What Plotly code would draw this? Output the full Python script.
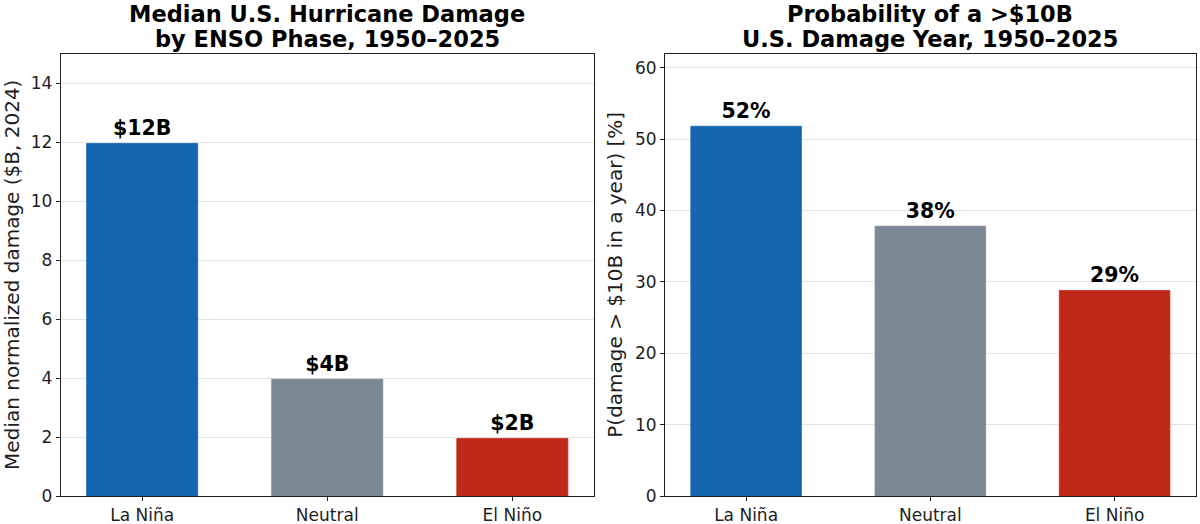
import plotly.graph_objects as go
from plotly.subplots import make_subplots

phases = ["La Niña", "Neutral", "El Niño"]
median_damage = [11.95, 3.96, 1.95]
damage_labels = ["$12B", "$4B", "$2B"]
prob_big_year = [51.8, 37.8, 28.8]
prob_labels = ["52%", "38%", "29%"]
bar_colors = ["#1565b0", "#7a8896", "#c0291a"]

font_family = "DejaVu Sans"
axis_color = "#1e1e1e"
grid_color = "#e4e4e4"

H = 524


def py(px):
    # reference pixel row -> paper y
    return 1 - px / H


fig = make_subplots(rows=1, cols=2)

fig.add_trace(go.Bar(
    x=[0, 1, 2], y=median_damage, width=0.6,
    marker=dict(color=bar_colors, line=dict(width=0.8, color=bar_colors)),
    text=damage_labels, textposition="outside", cliponaxis=False,
    textfont=dict(size=20.5, color="black", family=font_family, weight="bold"),
    showlegend=False), row=1, col=1)

fig.add_trace(go.Bar(
    x=[0, 1, 2], y=prob_big_year, width=0.6,
    marker=dict(color=bar_colors, line=dict(width=0.8, color=bar_colors)),
    text=prob_labels, textposition="outside", cliponaxis=False,
    textfont=dict(size=20.5, color="black", family=font_family, weight="bold"),
    showlegend=False), row=1, col=2)

fig.update_xaxes(domain=[0.0506, 0.4948], row=1, col=1)
fig.update_xaxes(domain=[0.5542, 0.9964], row=1, col=2)
fig.update_yaxes(domain=[py(496), py(53.5)])

fig.update_xaxes(
    range=[-0.44, 2.44], tickmode="array", tickvals=[0, 1, 2], ticktext=phases,
    showgrid=False, zeroline=False, automargin=False,
    ticks="outside", ticklen=4, tickcolor=axis_color,
    showline=True, linewidth=1, linecolor=axis_color, mirror=True,
    tickfont=dict(size=17, color=axis_color, family=font_family))

fig.update_yaxes(
    showgrid=True, gridwidth=1, gridcolor=grid_color, zeroline=False, automargin=False,
    ticks="outside", ticklen=4, tickcolor=axis_color,
    showline=True, linewidth=1, linecolor=axis_color, mirror=True,
    tickfont=dict(size=17, color=axis_color, family=font_family))

fig.update_yaxes(range=[0, 15], dtick=2, row=1, col=1,
                 title=dict(text="Median normalized damage ($B, 2024)", standoff=6,
                            font=dict(size=20, color=axis_color, family=font_family)))
fig.update_yaxes(range=[0, 62], dtick=10, row=1, col=2,
                 title=dict(text="P(damage > $10B in a year) [%]", standoff=6,
                            font=dict(size=20, color=axis_color, family=font_family)))

titles = [
    (["Median U.S. Hurricane Damage", "by ENSO Phase, 1950–2025"], 0.2725),
    (["Probability of a >$10B", "U.S. Damage Year, 1950–2025"], 0.7753),
]
for lines, xc in titles:
    for line, row_px in zip(lines, [14, 39]):
        fig.add_annotation(text="<b>" + line + "</b>", x=xc, y=py(row_px), xref="paper", yref="paper",
                           xanchor="center", yanchor="middle", showarrow=False,
                           font=dict(size=22.5, color="black", family=font_family))

fig.update_layout(
    width=1200, height=H,
    margin=dict(l=0, r=0, t=0, b=0),
    plot_bgcolor="white", paper_bgcolor="white",
    font=dict(family=font_family),
)

fig.write_html("out.html", config={"displayModeBar": False},
               post_script="document.body.style.margin='0';")
